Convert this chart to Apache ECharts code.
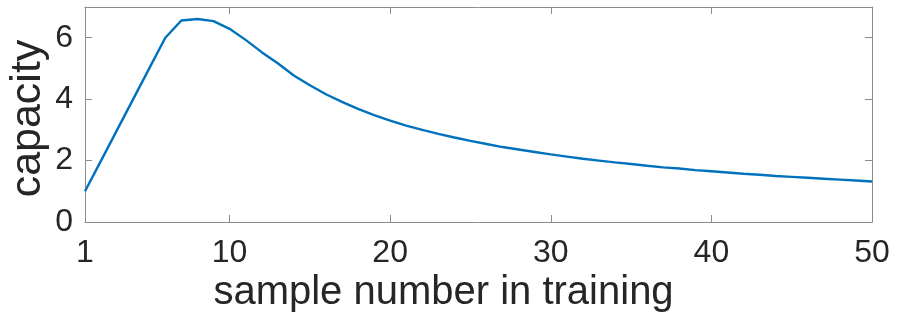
<!DOCTYPE html>
<html>
<head>
<meta charset="utf-8">
<script src="https://cdn.jsdelivr.net/npm/echarts@6/dist/echarts.min.js"></script>
<style>
html,body{margin:0;padding:0;background:#fff;}
#chart{width:899px;height:329px;}
</style>
</head>
<body>
<div id="chart"></div>
<script>
var sampleNumbers = [1,2,3,4,5,6,7,8,9,10,11,12,13,14,15,16,17,18,19,20,21,22,23,24,25,26,27,28,29,30,31,32,33,34,35,36,37,38,39,40,41,42,43,44,45,46,47,48,49,50];
var capacity = [1.0,2.0,3.0,4.0,5.0,6.0,6.56,6.61,6.54,6.29,5.93,5.53,5.17,4.77,4.45,4.16,3.91,3.68,3.48,3.30,3.14,3.00,2.87,2.75,2.64,2.54,2.44,2.36,2.28,2.20,2.13,2.06,2.00,1.94,1.89,1.83,1.78,1.74,1.69,1.65,1.61,1.57,1.54,1.50,1.47,1.44,1.41,1.38,1.35,1.32];
var xTicks = [1,10,20,30,40,50];
var yTicks = [0,2,4,6];
var xTitle = 'sample number in training';
var yTitle = 'capacity';

var axisGray = '#8c8c8c';
var textColor = '#262626';
var fontFam = 'Liberation Sans, Arial, sans-serif';

var chart = echarts.init(document.getElementById('chart'), null, {renderer:'canvas'});
var pts = sampleNumbers.map(function(x,i){return [x, capacity[i]];});

function xAx(pos, showLabel){
  return {
    type:'value', position:pos, min:1, max:50,
    axisLine:{show:true, onZero:false, lineStyle:{color:axisGray, width:1}},
    axisTick:{show:true, inside:true, length:7, customValues:xTicks, lineStyle:{color:axisGray}},
    axisLabel:{show:showLabel, customValues:xTicks, color:textColor, fontSize:32, fontFamily:fontFam, margin:15},
    splitLine:{show:false},
    name: showLabel ? xTitle : '',
    nameLocation:'middle', nameGap:51, nameMoveOverlap:false,
    nameTextStyle:{color:textColor, fontSize:40, fontFamily:fontFam, padding:[0,70,0,0]}
  };
}
function yAx(pos, showLabel){
  return {
    type:'value', position:pos, min:0, max:7,
    axisLine:{show:true, onZero:false, lineStyle:{color:axisGray, width:1}},
    axisTick:{show:true, inside:true, length:7, customValues:yTicks, lineStyle:{color:axisGray}},
    axisLabel:{show:showLabel, customValues:yTicks, color:textColor, fontSize:32, fontFamily:fontFam, margin:12},
    splitLine:{show:false},
    name: showLabel ? yTitle : '',
    nameLocation:'middle', nameGap:35, nameRotate:90, nameMoveOverlap:false,
    nameTextStyle:{color:textColor, fontSize:43, fontFamily:fontFam, padding:[0,8,0,0]}
  };
}

chart.setOption({
  backgroundColor:'#ffffff',
  animation:false,
  grid:{left:85, right:27, top:7, bottom:107, containLabel:false, outerBoundsMode:'none'},
  xAxis:[xAx('bottom', true), xAx('top', false)],
  yAxis:[yAx('left', true), yAx('right', false)],
  series:[{
    type:'line', data:pts, xAxisIndex:0, yAxisIndex:0,
    showSymbol:false, smooth:false,
    lineStyle:{color:'#0072BD', width:2.4}
  }]
});
</script>
</body>
</html>
